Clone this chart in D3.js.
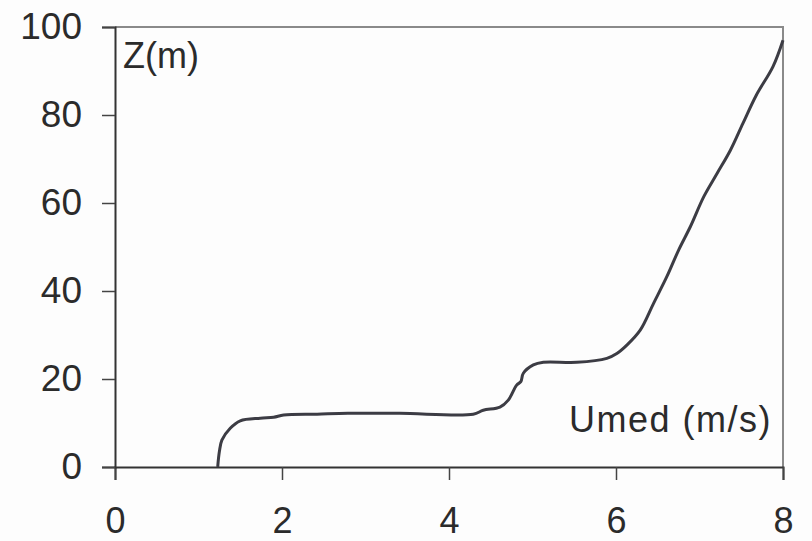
<!DOCTYPE html>
<html>
<head>
  <meta charset="utf-8"/>
  <title>Umed profile</title>
  <script src="https://d3js.org/d3.v7.min.js"></script>
  <style>
    body { margin: 0; background: #fdfdfd; }
    text { font-family: "Liberation Sans", Arial, sans-serif; fill: #2b2b2b; }
  </style>
</head>
<body>
<div id="my_dataviz"></div>
<script>
// wind speed (m/s) and height (m)
var umed = [1.23, 1.25, 1.28, 1.38, 1.50, 1.74, 1.90, 2.02, 2.42, 2.79, 3.41, 4.29, 4.41, 4.61, 4.71, 4.81, 4.86, 4.89, 5.01, 5.13, 5.53, 5.89, 6.01, 6.13, 6.29, 6.45, 6.61, 6.75, 6.89, 7.05, 7.21, 7.37, 7.52, 7.68, 7.88, 8.0]
var zed  = [0, 3.5, 6.1, 8.8, 10.5, 11.1, 11.3, 11.8, 12.0, 12.2, 12.2, 12.0, 12.9, 13.6, 15.2, 18.6, 19.4, 21.3, 23.2, 23.8, 23.8, 24.7, 25.8, 27.7, 31.1, 37.2, 43.3, 49.3, 54.6, 61.4, 66.7, 72.0, 78.1, 84.5, 91.0, 97.0]
var xTicks = [0, 2, 4, 6, 8]
var yTicks = [0, 20, 40, 60, 80, 100]

var width = 812
    height = 541
    margin = {top: 27, right: 29, bottom: 74, left: 115}

var svg = d3.select("#my_dataviz")
  .append("svg")
    .attr("width", width)
    .attr("height", height)
  .append("g")
    .attr("transform", "translate(" + margin.left + "," + margin.top + ")");

var w = width - margin.left - margin.right
var h = height - margin.top - margin.bottom

var x = d3.scaleLinear().domain([0, 8]).range([0, w])
var y = d3.scaleLinear().domain([0, 100]).range([h, 0])

// light frame on top and right
svg.append("path")
  .attr("d", "M0,0H" + w + "V" + h)
  .attr("fill", "none")
  .attr("stroke", "#8a8a8a")
  .attr("stroke-width", 2)

var xAxis = svg.append("g")
  .attr("transform", "translate(0," + h + ")")
  .call(d3.axisBottom(x).tickValues(xTicks).tickSize(13).tickPadding(27).tickFormat(d3.format("d")))

var yAxis = svg.append("g")
  .call(d3.axisLeft(y).tickValues(yTicks).tickSize(13).tickPadding(20).tickFormat(d3.format("d")))

;[xAxis, yAxis].forEach(function(a) {
  a.select(".domain").attr("stroke", "#333").attr("stroke-width", 2)
  a.selectAll(".tick line").attr("stroke", "#444").attr("stroke-width", 1.5)
  a.selectAll(".tick text").style("font-size", "36px").attr("fill", "#2b2b2b")
})
yAxis.selectAll(".tick text").style("font-size", "37px")

var data = umed.map(function(d, i) { return {u: d, z: zed[i]} })

svg.append("path")
  .datum(data)
  .attr("fill", "none")
  .attr("stroke", "#3c3c44")
  .attr("stroke-width", 3)
  .attr("stroke-linejoin", "round")
  .attr("d", d3.line()
    .curve(d3.curveCatmullRom)
    .x(function(d) { return x(d.u) })
    .y(function(d) { return y(d.z) }))

svg.append("text")
  .attr("x", 8)
  .attr("y", 41)
  .style("font-size", "36px")
  .text("Z(m)")

svg.append("text")
  .attr("x", w - 11)
  .attr("y", 405)
  .attr("text-anchor", "end")
  .style("font-size", "36px")
  .style("letter-spacing", "1.5px")
  .text("Umed (m/s)")
</script>
</body>
</html>
